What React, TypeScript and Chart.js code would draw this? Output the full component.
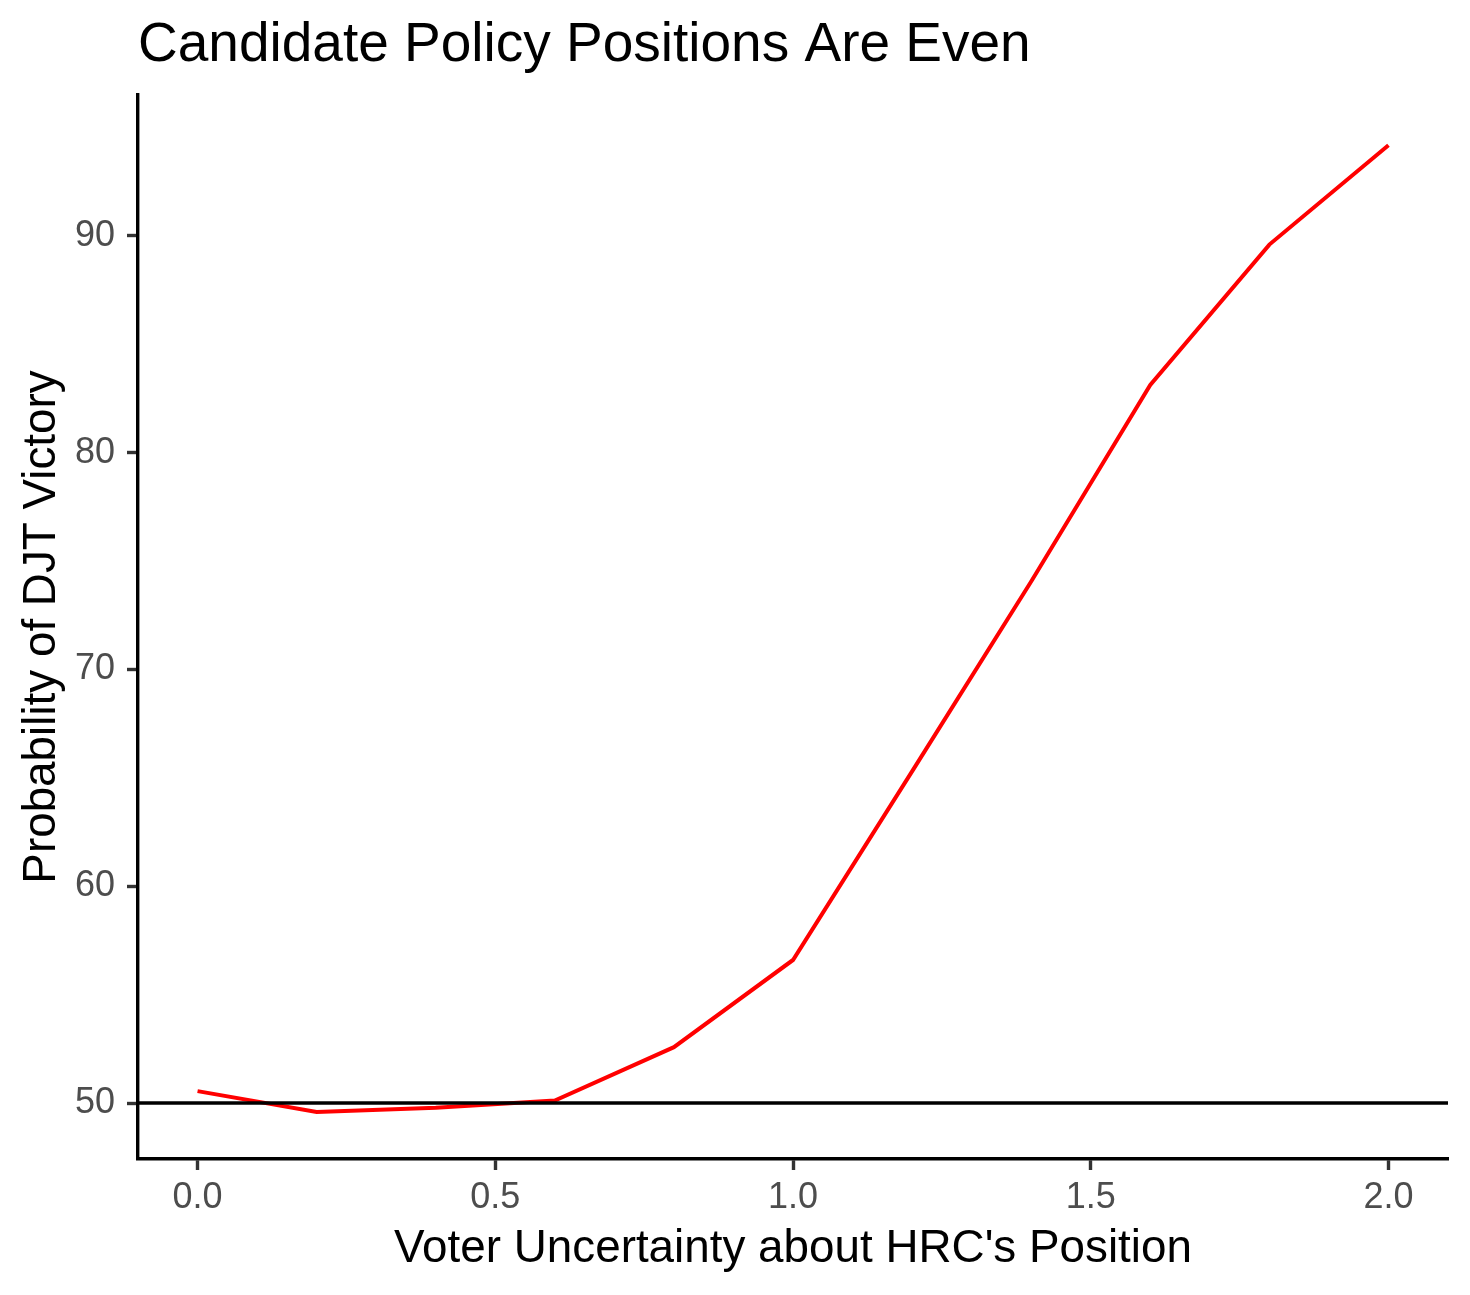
import React, { useEffect, useRef } from "react";
import { Chart, registerables } from "chart.js";

Chart.register(...registerables);

const titleText = "Candidate Policy Positions Are Even";
const xTitle = "Voter Uncertainty about HRC's Position";
const yTitle = "Probability of DJT Victory";

const uncertainty = [0, 0.2, 0.4, 0.6, 0.8, 1.0, 1.2, 1.4, 1.6, 1.8, 2.0];
const djtProbability = [50.55, 49.59, 49.78, 50.12, 52.58, 56.6, 65.3, 74.06, 83.13, 89.6, 94.18];

const xTicks = [0, 0.5, 1, 1.5, 2];
const yTicks = [50, 60, 70, 80, 90];
const referenceLevel = 50;

const xMin = -0.1;
const xMax = 2.1;
const yMin = 47.42;
const yMax = 96.5;

const FONT = "'Liberation Sans', Arial, Helvetica, sans-serif";

export default function App() {
  const canvasRef = useRef<HTMLCanvasElement | null>(null);

  useEffect(() => {
    const canvas = canvasRef.current;
    if (!canvas) return;

    const hlinePlugin = {
      id: "hline",
      afterDatasetsDraw(chart: any) {
        const { ctx, chartArea, scales } = chart;
        const y = scales.y.getPixelForValue(referenceLevel);
        ctx.save();
        ctx.strokeStyle = "#000000";
        ctx.lineWidth = 3.4;
        ctx.beginPath();
        ctx.moveTo(chartArea.left, y);
        ctx.lineTo(chartArea.right, y);
        ctx.stroke();
        ctx.restore();
      },
    };

    const chart = new Chart(canvas, {
      type: "line",
      data: {
        datasets: [
          {
            data: uncertainty.map((x, i) => ({ x, y: djtProbability[i] })),
            borderColor: "#FF0000",
            borderWidth: 4,
            pointRadius: 0,
            fill: false,
            tension: 0,
          },
        ],
      },
      options: {
        animation: false,
        responsive: false,
        maintainAspectRatio: false,
        layout: { padding: { left: 0, right: 22, top: 0, bottom: 0 } },
        plugins: {
          legend: { display: false },
          tooltip: { enabled: false },
          title: {
            display: true,
            text: titleText,
            align: "start",
            fullSize: false,
            color: "#000000",
            font: { family: FONT, size: 55, weight: "normal", lineHeight: 1.2 },
            padding: { top: 13, bottom: 16 },
          },
        },
        scales: {
          x: {
            type: "linear",
            min: xMin,
            max: xMax,
            afterBuildTicks(scale: any) {
              scale.ticks = xTicks.map((v) => ({ value: v }));
            },
            afterFit(scale: any) {
              scale.height = 136;
            },
            ticks: {
              color: "#4D4D4D",
              font: { family: FONT, size: 36 },
              padding: 6,
              maxRotation: 0,
              autoSkip: false,
              callback: (v: any) => Number(v).toFixed(1),
            },
            grid: {
              display: true,
              drawOnChartArea: false,
              drawTicks: true,
              tickLength: 11,
              tickColor: "#333333",
              tickWidth: 3.4,
            },
            border: { display: true, color: "#000000", width: 3.4 },
            title: {
              display: true,
              text: xTitle,
              color: "#000000",
              font: { family: FONT, size: 45.8, lineHeight: 1.2 },
              padding: { top: 0, bottom: 18 },
            },
          },
          y: {
            type: "linear",
            min: yMin,
            max: yMax,
            afterBuildTicks(scale: any) {
              scale.ticks = yTicks.map((v) => ({ value: v }));
            },
            afterFit(scale: any) {
              scale.width = 138;
            },
            ticks: {
              color: "#4D4D4D",
              font: { family: FONT, size: 36 },
              padding: 12,
              autoSkip: false,
              callback: (v: any) => String(v),
            },
            grid: {
              display: true,
              drawOnChartArea: false,
              drawTicks: true,
              tickLength: 11,
              tickColor: "#333333",
              tickWidth: 3.4,
            },
            border: { display: true, color: "#000000", width: 3.4 },
            title: {
              display: true,
              text: yTitle,
              color: "#000000",
              font: { family: FONT, size: 45.8, lineHeight: 1.2 },
              padding: { top: 15, bottom: 0 },
            },
          },
        },
      },
      plugins: [hlinePlugin],
    });

    return () => {
      chart.destroy();
    };
  }, []);

  return (
    <div style={{ position: "absolute", left: 0, top: 0, width: 1470, height: 1295, background: "#ffffff" }}>
      <canvas ref={canvasRef} width={1470} height={1295} style={{ width: 1470, height: 1295, display: "block" }} />
    </div>
  );
}
